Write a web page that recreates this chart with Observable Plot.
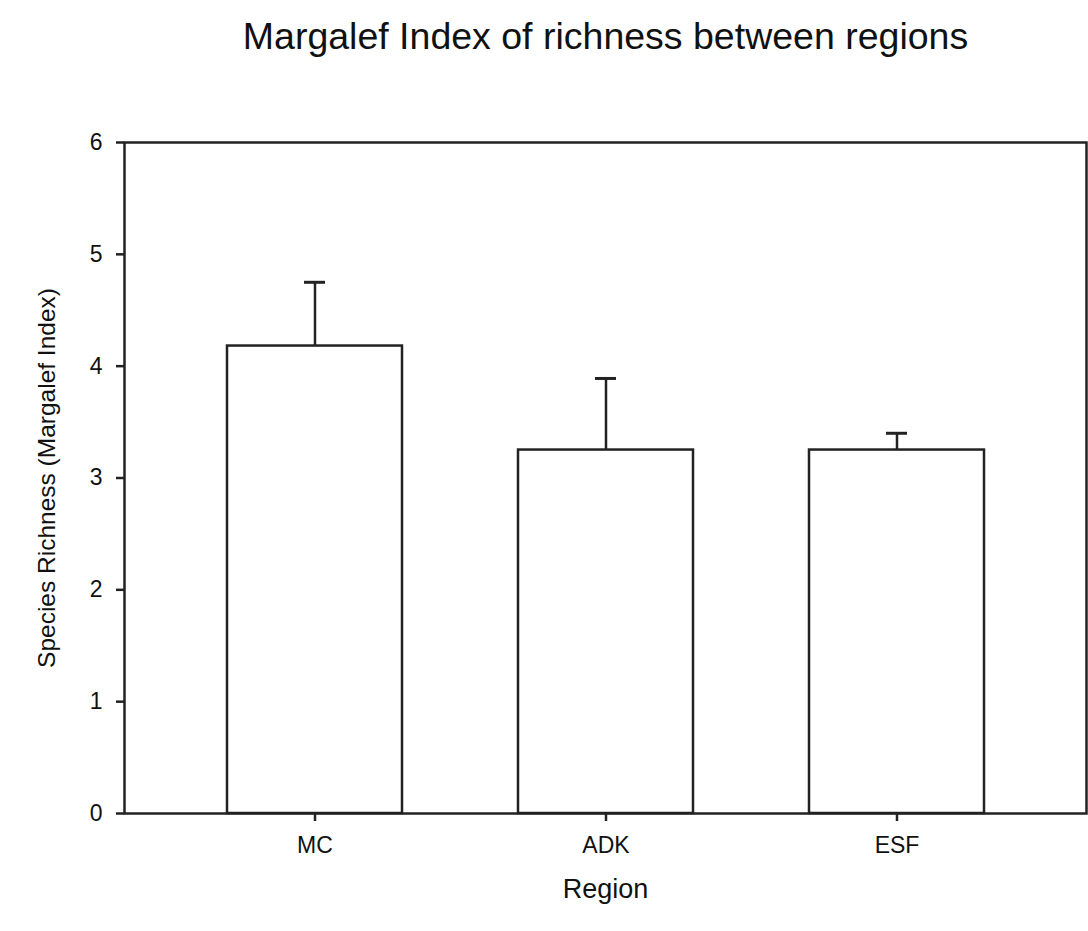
<!DOCTYPE html>
<html>
<head>
<meta charset="utf-8">
<script src="https://cdn.jsdelivr.net/npm/d3@7"></script>
<script src="https://cdn.jsdelivr.net/npm/@observablehq/plot@0.6"></script>
<style>
  html, body { margin: 0; padding: 0; background: #fff; }
  svg { display: block; }
</style>
</head>
<body>
<div id="chart"></div>
<script>
const regions = ["MC", "ADK", "ESF"];
const means = [4.18, 3.25, 3.25];
const errTops = [4.75, 3.89, 3.40];
const yTicks = [0, 1, 2, 3, 4, 5, 6];
const titleText = "Margalef Index of richness between regions";
const xLabel = "Region";
const yLabel = "Species Richness (Margalef Index)";

const data = regions.map((r, i) => ({region: r, mean: means[i], top: errTops[i]}));

const FONT = "Liberation Sans, Arial, Helvetica, sans-serif";
const INK = "#222";
const TXT = "#111";

const chart = Plot.plot({
  width: 1088,
  height: 931,
  marginLeft: 124,
  marginRight: 2,
  marginTop: 142,
  marginBottom: 118,
  style: {fontFamily: FONT, background: "#fff", color: TXT},
  x: {domain: regions, paddingInner: 0.4, paddingOuter: 0.35, label: null},
  y: {domain: [0, 6], label: null},
  marks: [
    Plot.ruleX(data, {x: "region", y1: "mean", y2: "top", stroke: INK, strokeWidth: 2.5}),
    Plot.tickY(data, {x: "region", y: "top", stroke: INK, strokeWidth: 3, insetLeft: 77, insetRight: 77}),
    Plot.barY(data, {x: "region", y: "mean", fill: "#fff", stroke: INK, strokeWidth: 2.5}),
    Plot.frame({stroke: INK, strokeWidth: 2.5}),
    Plot.axisY({ticks: yTicks, tickSize: 8, tickFormat: () => "", stroke: INK, strokeWidth: 2.5, label: null}),
    Plot.axisX({tickSize: 8, tickFormat: () => "", stroke: INK, strokeWidth: 2.5, label: null}),
    Plot.text(yTicks, {y: d => d, frameAnchor: "left", dx: -22, textAnchor: "end", fontSize: 23, fill: TXT, text: d => String(d)}),
    Plot.text(regions, {x: d => d, frameAnchor: "bottom", dy: 32, lineAnchor: "middle", fontSize: 23, fill: TXT, text: d => d}),
    Plot.text([titleText], {frameAnchor: "top", dy: -94, lineAnchor: "bottom", fontSize: 37.5, fill: TXT}),
    Plot.text([xLabel], {frameAnchor: "bottom", dy: 84, lineAnchor: "bottom", fontSize: 27, fill: TXT}),
    Plot.text([yLabel], {frameAnchor: "left", dx: -70, rotate: -90, textAnchor: "middle", lineAnchor: "bottom", fontSize: 24.5, fill: TXT})
  ]
});
document.getElementById("chart").appendChild(chart);
</script>
</body>
</html>
